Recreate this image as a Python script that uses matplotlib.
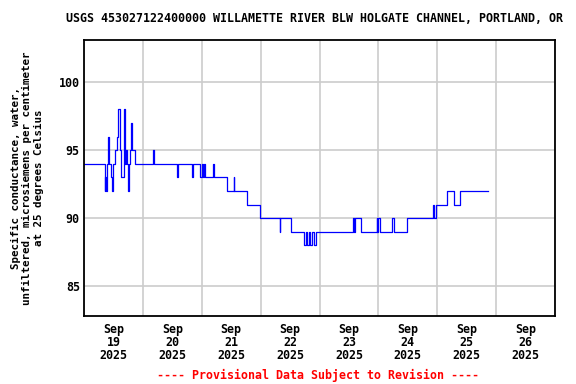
import numpy as np
import matplotlib
matplotlib.use("Agg")
import matplotlib.pyplot as plt
import matplotlib.dates as mdates

# Hours since 2025-09-19 00:00 at which the value changes, and the values
hours = [0, 8.5, 8.75, 9.0, 9.25, 9.75, 10.0, 10.9, 11.5, 11.75, 12.0, 12.5, 13.25,
         14.0, 14.75, 15.0, 16.4, 16.75, 17.25, 17.5, 18.0, 18.25, 18.5, 18.75, 19.1,
         19.4, 19.75, 20.75, 28.25, 28.5, 38.0, 38.25, 44.1, 44.5, 47.3, 48.0, 48.5,
         49.1, 49.4, 52.7, 52.95, 58.4, 61.0, 61.25, 66.5, 71.7, 79.7, 80.0, 84.3,
         89.6, 90.4, 91.0, 91.6, 92.2, 93.0, 93.6, 94.4, 109.5, 110.0, 110.4, 113.0,
         119.3, 119.6, 119.9, 120.7, 125.4, 126.5, 131.5, 142.3, 142.6, 143.3, 147.8,
         150.8, 153.2, 164.8]
values = [94, 92, 93, 92, 94, 96, 94, 93, 92, 93, 94, 95, 96,
          98, 95, 93, 98, 94, 95, 94, 92, 93, 94, 95, 97,
          96, 95, 94, 95, 94, 93, 94, 93, 94, 93, 94, 93,
          94, 93, 94, 93, 92, 93, 92, 91, 90, 89, 90, 89,
          88, 89, 88, 89, 88, 89, 88, 89, 90, 89, 90, 89,
          90, 89, 90, 89, 90, 89, 90, 91, 90, 91, 92,
          91, 92, 92]

y_ticks = [85, 90, 95, 100]
title = "USGS 453027122400000 WILLAMETTE RIVER BLW HOLGATE CHANNEL, PORTLAND, OR"
ylabel = "Specific conductance, water,\nunfiltered, microsiemens per centimeter\nat 25 degrees Celsius"
footer = "---- Provisional Data Subject to Revision ----"

base = np.datetime64("2025-09-19T00:00")
times = base + (np.array(hours) * 60).round().astype("timedelta64[m]")

mono = "DejaVu Sans Mono"
fig = plt.figure(figsize=(5.76, 3.84), dpi=100)
ax = fig.add_axes([84/576, 1-316/384, (555-84)/576, (316-40)/384])

ax.plot(times.astype("datetime64[s]").tolist(), values, drawstyle="steps-post",
        color="#0000ff", linewidth=0.9)

ax.set_xlim(np.datetime64("2025-09-19T00:00").astype("datetime64[s]").tolist(),
            np.datetime64("2025-09-27T00:00").astype("datetime64[s]").tolist())
ax.set_ylim(82.8, 103.1)
ax.set_yticks(y_ticks)
ax.set_yticklabels([str(v) for v in y_ticks], fontfamily=mono, fontweight="bold", fontsize=8.4)

ax.xaxis.set_major_locator(mdates.DayLocator())
ax.xaxis.set_major_formatter(plt.NullFormatter())
ax.xaxis.set_minor_locator(mdates.HourLocator(byhour=[12]))
ax.xaxis.set_minor_formatter(mdates.DateFormatter("%b\n%d\n%Y"))
for lab in ax.xaxis.get_minorticklabels():
    lab.set_fontfamily(mono)
    lab.set_fontweight("bold")
    lab.set_fontsize(8.4)
    lab.set_linespacing(0.98)

ax.tick_params(axis="both", which="both", length=0)
ax.tick_params(axis="x", which="minor", pad=5)
ax.tick_params(axis="y", pad=3)
ax.grid(True, which="major", color="#cccccc", linewidth=1.2)
ax.set_axisbelow(True)
for s in ax.spines.values():
    s.set_linewidth(1.3)
    s.set_color("black")

ax.set_ylabel(ylabel, fontfamily=mono, fontweight="bold", fontsize=7.8, linespacing=1.15, labelpad=11)

fig.text(315/576, 1-18/384, title, ha="center", va="center", fontfamily=mono,
         fontweight="bold", fontsize=8.4)
fig.text(318/576, 1-375/384, footer, ha="center", va="center", fontfamily=mono,
         fontweight="bold", fontsize=8.4, color="#ff0000")

fig.savefig("out.png", dpi=100)
